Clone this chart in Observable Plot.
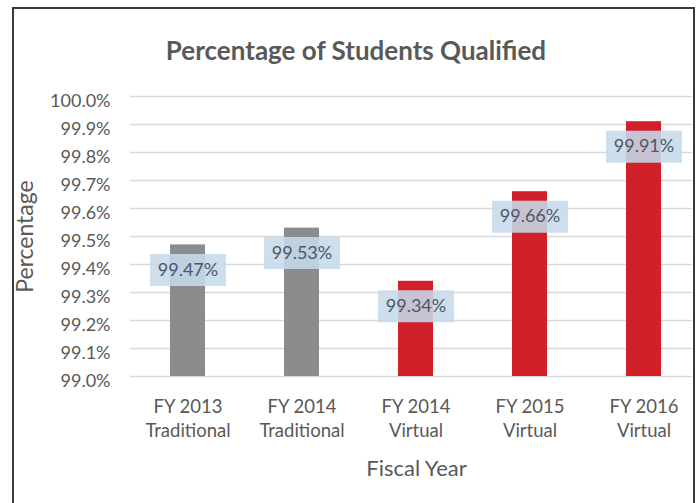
<!DOCTYPE html>
<html><head><meta charset="utf-8">
<script src="https://cdn.jsdelivr.net/npm/d3@7"></script>
<script src="https://cdn.jsdelivr.net/npm/@observablehq/plot@0.6"></script>
<style>
body{margin:0;background:#fff;}
#wrap{position:relative;width:698px;height:503px;overflow:hidden;background:#fff;font-family:Lato,"Open Sans",sans-serif;}
#clip{position:absolute;left:0;top:0;width:692px;height:503px;overflow:hidden;}
#clip svg{max-width:none !important;}
#frame{position:absolute;left:12px;top:7px;width:679px;height:540px;border:2px solid #3a3a3a;border-bottom:none;pointer-events:none;}
#title{position:absolute;left:0;top:34px;width:712px;text-align:center;font-weight:700;font-size:26px;line-height:32px;color:#595959;}
</style></head>
<body>
<div id="wrap">
  <div id="clip"></div>
  <div id="title">Percentage of Students Qualified</div>
  <div id="frame"></div>
</div>
<script>
const categories = ["FY 2013\nTraditional", "FY 2014\nTraditional", "FY 2014\nVirtual", "FY 2015\nVirtual", "FY 2016\nVirtual"];
const values = [99.47, 99.53, 99.34, 99.66, 99.91];
const programs = ["Traditional", "Traditional", "Virtual", "Virtual", "Virtual"];
const yTicks = [99.0, 99.1, 99.2, 99.3, 99.4, 99.5, 99.6, 99.7, 99.8, 99.9, 100.0];

const data = categories.map((c, i) => ({category: c, value: values[i], program: programs[i]}));
const boxSymbol = {draw(ctx) { ctx.rect(-38, -16, 76, 32); }};

const chart = Plot.plot({
  width: 702,
  height: 503,
  marginLeft: 130,
  marginRight: 0,
  marginTop: 96,
  marginBottom: 127,
  style: {fontFamily: "Lato, 'Open Sans', sans-serif", background: "transparent", maxWidth: "none"},
  x: {domain: categories, paddingInner: 0.69, paddingOuter: 0.345},
  y: {domain: [99, 100]},
  color: {domain: ["Traditional", "Virtual"], range: ["#8c8c8c", "#d2202a"]},
  marks: [
    Plot.gridY(yTicks, {stroke: "#d9d9d9", strokeOpacity: 1, strokeWidth: 1.5}),
    Plot.barY(data, {x: "category", y1: 99, y2: "value", fill: "program"}),
    Plot.dot(data, {x: "category", y: "value", dy: 25, symbol: boxSymbol, fill: "#c6d9ea", fillOpacity: 0.88, stroke: null}),
    Plot.text(data, {x: "category", y: "value", dy: 25, text: d => d.value.toFixed(2) + "%", fill: "#4a5868", fontSize: 18}),
    Plot.axisY(yTicks, {tickSize: 0, tickPadding: 20, tickFormat: d => d.toFixed(1) + "%", fontSize: 18, fill: "#595959", dy: 5, label: null}),
    Plot.axisY([], {tickSize: 0, label: "Percentage", labelAnchor: "center", labelOffset: 114, labelArrow: "none", fontSize: 23, fill: "#595959"}),
    Plot.axisX({tickSize: 0, tickPadding: 20, fontSize: 18.5, lineHeight: 1.27, fill: "#595959", label: null}),
    Plot.axisX([], {tickSize: 0, label: "Fiscal Year", labelAnchor: "center", labelOffset: 99, fontSize: 22, fill: "#595959", dx: -7})
  ]
});
document.getElementById("clip").appendChild(chart);
</script>
</body></html>
